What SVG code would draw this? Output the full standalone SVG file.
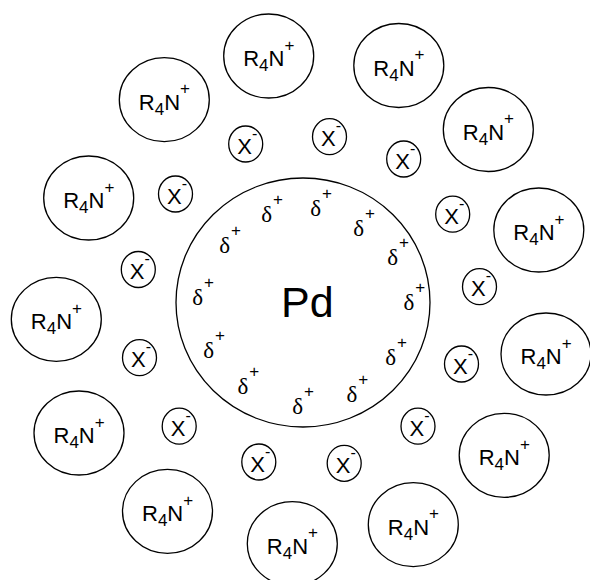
<svg xmlns="http://www.w3.org/2000/svg" width="590" height="580" viewBox="0 0 590 580">
<style>
  .sh { fill: #fff; stroke: #000; stroke-width: 1.3; }
  .t { font-family: "Liberation Sans", Arial, sans-serif; font-size: 22px; fill: #000; }
  .sub { font-size: 17px; }
  .sup { font-size: 17px; }
  .xm { font-size: 16px; }
  .d { font-family: "Liberation Serif", "Times New Roman", serif; font-size: 23px; fill: #000; }
  .dp { font-family: "Liberation Sans", Arial, sans-serif; font-size: 17px; }
  .pd { font-family: "Liberation Sans", Arial, sans-serif; font-size: 43px; fill: #000; }
</style>
<rect width="590" height="580" fill="#fff"/>
<g id="connectors"/>

<g id="pd">
  <ellipse class="sh" cx="303" cy="302.5" rx="127" ry="124.5"/>
  <text class="pd" x="281" y="316.5">Pd</text>
  <text class="d" x="261.2" y="222">δ<tspan class="dp" dx="1" dy="-17">+</tspan></text>
  <text class="d" x="310.2" y="216">δ<tspan class="dp" dx="1" dy="-17">+</tspan></text>
  <text class="d" x="353.2" y="236">δ<tspan class="dp" dx="1" dy="-17">+</tspan></text>
  <text class="d" x="387.2" y="265">δ<tspan class="dp" dx="1" dy="-17">+</tspan></text>
  <text class="d" x="403.5" y="310">δ<tspan class="dp" dx="1" dy="-17">+</tspan></text>
  <text class="d" x="385.2" y="364.7">δ<tspan class="dp" dx="1" dy="-17">+</tspan></text>
  <text class="d" x="346.5" y="402">δ<tspan class="dp" dx="1" dy="-17">+</tspan></text>
  <text class="d" x="292.2" y="413.7">δ<tspan class="dp" dx="1" dy="-17">+</tspan></text>
  <text class="d" x="237.5" y="393.7">δ<tspan class="dp" dx="1" dy="-17">+</tspan></text>
  <text class="d" x="203.2" y="358">δ<tspan class="dp" dx="1" dy="-17">+</tspan></text>
  <text class="d" x="192.2" y="305">δ<tspan class="dp" dx="1" dy="-17">+</tspan></text>
  <text class="d" x="219.2" y="253">δ<tspan class="dp" dx="1" dy="-17">+</tspan></text>
</g>

<g id="r1"><ellipse class="sh" cx="164.3" cy="99.7" rx="45" ry="42"/><text class="t" x="138.8" y="109.7">R<tspan class="sub" dy="5">4</tspan><tspan dy="-5">N</tspan><tspan class="sup" dy="-15.5">+</tspan></text></g>
<g id="r2"><ellipse class="sh" cx="268.7" cy="56" rx="45" ry="42"/><text class="t" x="243.2" y="66">R<tspan class="sub" dy="5">4</tspan><tspan dy="-5">N</tspan><tspan class="sup" dy="-15.5">+</tspan></text></g>
<g id="r3"><ellipse class="sh" cx="398.8" cy="65.5" rx="45" ry="42"/><text class="t" x="373.3" y="75.5">R<tspan class="sub" dy="5">4</tspan><tspan dy="-5">N</tspan><tspan class="sup" dy="-15.5">+</tspan></text></g>
<g id="r4"><ellipse class="sh" cx="488.3" cy="129.5" rx="45" ry="42"/><text class="t" x="462.8" y="139.5">R<tspan class="sub" dy="5">4</tspan><tspan dy="-5">N</tspan><tspan class="sup" dy="-15.5">+</tspan></text></g>
<g id="r5"><ellipse class="sh" cx="538.8" cy="230" rx="45" ry="42"/><text class="t" x="513.3" y="240">R<tspan class="sub" dy="5">4</tspan><tspan dy="-5">N</tspan><tspan class="sup" dy="-15.5">+</tspan></text></g>
<g id="r6"><ellipse class="sh" cx="546" cy="354" rx="45" ry="41"/><text class="t" x="520.5" y="364">R<tspan class="sub" dy="5">4</tspan><tspan dy="-5">N</tspan><tspan class="sup" dy="-15.5">+</tspan></text></g>
<g id="r7"><ellipse class="sh" cx="504.2" cy="455.3" rx="45" ry="42"/><text class="t" x="478.7" y="465.3">R<tspan class="sub" dy="5">4</tspan><tspan dy="-5">N</tspan><tspan class="sup" dy="-15.5">+</tspan></text></g>
<g id="r8"><ellipse class="sh" cx="413.3" cy="524.7" rx="45" ry="42"/><text class="t" x="387.8" y="534.7">R<tspan class="sub" dy="5">4</tspan><tspan dy="-5">N</tspan><tspan class="sup" dy="-15.5">+</tspan></text></g>
<g id="r9"><ellipse class="sh" cx="292.3" cy="543.7" rx="45" ry="42"/><text class="t" x="266.8" y="553.7">R<tspan class="sub" dy="5">4</tspan><tspan dy="-5">N</tspan><tspan class="sup" dy="-15.5">+</tspan></text></g>
<g id="r10"><ellipse class="sh" cx="167.5" cy="511.3" rx="45" ry="42"/><text class="t" x="142" y="521.3">R<tspan class="sub" dy="5">4</tspan><tspan dy="-5">N</tspan><tspan class="sup" dy="-15.5">+</tspan></text></g>
<g id="r11"><ellipse class="sh" cx="79" cy="433" rx="45" ry="42"/><text class="t" x="53.5" y="443">R<tspan class="sub" dy="5">4</tspan><tspan dy="-5">N</tspan><tspan class="sup" dy="-15.5">+</tspan></text></g>
<g id="r12"><ellipse class="sh" cx="56.3" cy="319.3" rx="45" ry="42"/><text class="t" x="30.8" y="329.3">R<tspan class="sub" dy="5">4</tspan><tspan dy="-5">N</tspan><tspan class="sup" dy="-15.5">+</tspan></text></g>
<g id="r13"><ellipse class="sh" cx="88.7" cy="198" rx="45" ry="42"/><text class="t" x="63.2" y="208">R<tspan class="sub" dy="5">4</tspan><tspan dy="-5">N</tspan><tspan class="sup" dy="-15.5">+</tspan></text></g>

<g id="x1"><ellipse class="sh" cx="245.7" cy="144" rx="17" ry="18"/><text class="t" x="237.2" y="153.5">X<tspan class="xm" dy="-15">-</tspan></text></g>
<g id="x2"><ellipse class="sh" cx="329.5" cy="136.7" rx="17" ry="18"/><text class="t" x="321" y="146.2">X<tspan class="xm" dy="-15">-</tspan></text></g>
<g id="x3"><ellipse class="sh" cx="403.7" cy="159" rx="17" ry="18"/><text class="t" x="395.2" y="168.5">X<tspan class="xm" dy="-15">-</tspan></text></g>
<g id="x4"><ellipse class="sh" cx="452.7" cy="214.2" rx="17" ry="18"/><text class="t" x="444.2" y="223.7">X<tspan class="xm" dy="-15">-</tspan></text></g>
<g id="x5"><ellipse class="sh" cx="479.5" cy="286.7" rx="17" ry="18"/><text class="t" x="471" y="296.2">X<tspan class="xm" dy="-15">-</tspan></text></g>
<g id="x6"><ellipse class="sh" cx="461.5" cy="364" rx="17" ry="18"/><text class="t" x="453" y="373.5">X<tspan class="xm" dy="-15">-</tspan></text></g>
<g id="x7"><ellipse class="sh" cx="418" cy="426.2" rx="17" ry="18"/><text class="t" x="409.5" y="435.7">X<tspan class="xm" dy="-15">-</tspan></text></g>
<g id="x8"><ellipse class="sh" cx="344.2" cy="463.3" rx="17" ry="18"/><text class="t" x="335.7" y="472.8">X<tspan class="xm" dy="-15">-</tspan></text></g>
<g id="x9"><ellipse class="sh" cx="258.8" cy="462" rx="17" ry="18"/><text class="t" x="250.3" y="471.5">X<tspan class="xm" dy="-15">-</tspan></text></g>
<g id="x10"><ellipse class="sh" cx="179.2" cy="426.2" rx="17" ry="18"/><text class="t" x="170.7" y="435.7">X<tspan class="xm" dy="-15">-</tspan></text></g>
<g id="x11"><ellipse class="sh" cx="139.5" cy="357.7" rx="17" ry="18"/><text class="t" x="131" y="367.2">X<tspan class="xm" dy="-15">-</tspan></text></g>
<g id="x12"><ellipse class="sh" cx="138.3" cy="269.5" rx="17" ry="18"/><text class="t" x="129.8" y="279">X<tspan class="xm" dy="-15">-</tspan></text></g>
<g id="x13"><ellipse class="sh" cx="175.5" cy="194" rx="17" ry="18"/><text class="t" x="167" y="203.5">X<tspan class="xm" dy="-15">-</tspan></text></g>
</svg>
